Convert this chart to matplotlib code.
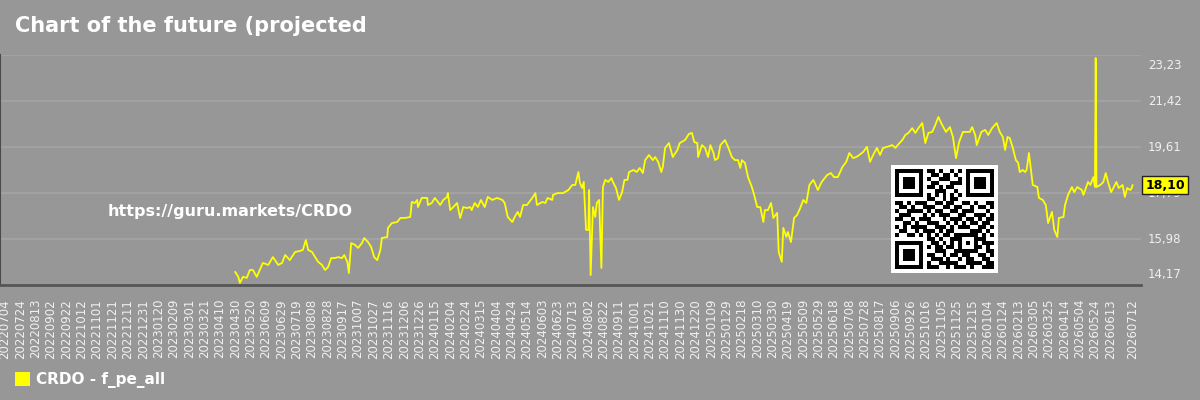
import matplotlib
matplotlib.use('Agg')
import numpy as np
import pandas as pd
from matplotlib import pyplot as plt
from matplotlib import transforms
from matplotlib.patches import Patch

# ---------------------------------------------------------------------------
# datos
# ---------------------------------------------------------------------------
title = 'Chart of the future (projected'
watermark = 'https://guru.markets/CRDO'
series_name = 'CRDO - f_pe_all'

dates = [
    '2023-04-30', '2023-05-04', '2023-05-06', '2023-05-10', '2023-05-15', '2023-05-19',
    '2023-05-23', '2023-05-28', '2023-06-01', '2023-06-05', '2023-06-12', '2023-06-18',
    '2023-06-25', '2023-06-30', '2023-07-04', '2023-07-10', '2023-07-17', '2023-07-23',
    '2023-07-27', '2023-07-31', '2023-08-03', '2023-08-08', '2023-08-12', '2023-08-16',
    '2023-08-21', '2023-08-25', '2023-08-29', '2023-09-02', '2023-09-07', '2023-09-11',
    '2023-09-16', '2023-09-19', '2023-09-23', '2023-09-25', '2023-09-28', '2023-10-03',
    '2023-10-07', '2023-10-12', '2023-10-15', '2023-10-20', '2023-10-24', '2023-10-28',
    '2023-11-01', '2023-11-05', '2023-11-07', '2023-11-14', '2023-11-15', '2023-11-20',
    '2023-11-27', '2023-12-01', '2023-12-07', '2023-12-14', '2023-12-16', '2023-12-20',
    '2023-12-23', '2023-12-24', '2023-12-29', '2024-01-05', '2024-01-06', '2024-01-11',
    '2024-01-15', '2024-01-19', '2024-01-22', '2024-01-26', '2024-01-31', '2024-02-01',
    '2024-02-04', '2024-02-08', '2024-02-13', '2024-02-17', '2024-02-21', '2024-02-26',
    '2024-03-01', '2024-03-03', '2024-03-07', '2024-03-11', '2024-03-15', '2024-03-20',
    '2024-03-24', '2024-03-30', '2024-04-05', '2024-04-12', '2024-04-15', '2024-04-19',
    '2024-04-25', '2024-04-28', '2024-05-02', '2024-05-05', '2024-05-09', '2024-05-14',
    '2024-05-21', '2024-05-25', '2024-05-27', '2024-06-03', '2024-06-07', '2024-06-10',
    '2024-06-16', '2024-06-17', '2024-06-23', '2024-06-30', '2024-07-07', '2024-07-12',
    '2024-07-16', '2024-07-20', '2024-07-22', '2024-07-25', '2024-07-27', '2024-07-30',
    '2024-08-02', '2024-08-03', '2024-08-05', '2024-08-08', '2024-08-11', '2024-08-13',
    '2024-08-16', '2024-08-19', '2024-08-21', '2024-08-24', '2024-08-28', '2024-09-01',
    '2024-09-03', '2024-09-07', '2024-09-11', '2024-09-15', '2024-09-18', '2024-09-22',
    '2024-09-24', '2024-09-30', '2024-10-04', '2024-10-08', '2024-10-12', '2024-10-15',
    '2024-10-20', '2024-10-25', '2024-10-28', '2024-11-01', '2024-11-05', '2024-11-07',
    '2024-11-10', '2024-11-15', '2024-11-20', '2024-11-26', '2024-11-29', '2024-12-06',
    '2024-12-11', '2024-12-15', '2024-12-18', '2024-12-22', '2024-12-23', '2024-12-28',
    '2025-01-01', '2025-01-05', '2025-01-08', '2025-01-12', '2025-01-14', '2025-01-18',
    '2025-01-21', '2025-01-27', '2025-01-31', '2025-02-05', '2025-02-09', '2025-02-13',
    '2025-02-16', '2025-02-18', '2025-02-22', '2025-02-26', '2025-03-03', '2025-03-06',
    '2025-03-10', '2025-03-14', '2025-03-18', '2025-03-20', '2025-03-24', '2025-03-28',
    '2025-03-31', '2025-04-05', '2025-04-07', '2025-04-11', '2025-04-13', '2025-04-17',
    '2025-04-19', '2025-04-23', '2025-04-27', '2025-05-01', '2025-05-05', '2025-05-09',
    '2025-05-13', '2025-05-17', '2025-05-22', '2025-05-24', '2025-05-28', '2025-06-02',
    '2025-06-09', '2025-06-14', '2025-06-18', '2025-06-23', '2025-06-29', '2025-07-04',
    '2025-07-08', '2025-07-13', '2025-07-17', '2025-07-21', '2025-07-26', '2025-07-31',
    '2025-08-04', '2025-08-08', '2025-08-13', '2025-08-17', '2025-08-21', '2025-08-26',
    '2025-09-02', '2025-09-06', '2025-09-09', '2025-09-15', '2025-09-19', '2025-09-23',
    '2025-09-28', '2025-10-02', '2025-10-06', '2025-10-11', '2025-10-15', '2025-10-19',
    '2025-10-24', '2025-10-28', '2025-11-01', '2025-11-06', '2025-11-11', '2025-11-16',
    '2025-11-20', '2025-11-24', '2025-11-28', '2025-12-03', '2025-12-08', '2025-12-12',
    '2025-12-15', '2025-12-19', '2025-12-21', '2025-12-27', '2026-01-01', '2026-01-05',
    '2026-01-10', '2026-01-16', '2026-01-20', '2026-01-24', '2026-01-27', '2026-01-30',
    '2026-02-02', '2026-02-06', '2026-02-10', '2026-02-13', '2026-02-15', '2026-02-19',
    '2026-02-22', '2026-02-24', '2026-02-27', '2026-03-02', '2026-03-04', '2026-03-10',
    '2026-03-12', '2026-03-17', '2026-03-21', '2026-03-24', '2026-03-29', '2026-04-01',
    '2026-04-05', '2026-04-07', '2026-04-13', '2026-04-15', '2026-04-19', '2026-04-24',
    '2026-04-27', '2026-05-01', '2026-05-07', '2026-05-09', '2026-05-15', '2026-05-18',
    '2026-05-22', '2026-05-24', '2026-05-25', '2026-05-26', '2026-05-31', '2026-06-04',
    '2026-06-07', '2026-06-10', '2026-06-14', '2026-06-17', '2026-06-21', '2026-06-24',
    '2026-06-29', '2026-07-02', '2026-07-05', '2026-07-09', '2026-07-11', '2026-07-12',
]

values = [
    14.68, 14.49, 14.25, 14.49, 14.45, 14.76,
    14.76, 14.49, 14.76, 15.04, 14.96, 15.27,
    14.96, 15.04, 15.35, 15.15, 15.47, 15.51,
    15.55, 15.94, 15.55, 15.47, 15.27, 15.08,
    14.96, 14.76, 14.88, 15.23, 15.23, 15.27,
    15.23, 15.35, 15.08, 14.64, 15.82, 15.75,
    15.63, 15.82, 16.02, 15.86, 15.67, 15.27,
    15.15, 15.55, 16.02, 16.06, 16.42, 16.61,
    16.65, 16.81, 16.81, 16.85, 17.44, 17.40,
    17.52, 17.24, 17.60, 17.60, 17.32, 17.40,
    17.60, 17.44, 17.32, 17.52, 17.64, 17.79,
    17.12, 17.24, 17.40, 16.81, 17.24, 17.20,
    17.24, 17.12, 17.40, 17.24, 17.52, 17.24,
    17.64, 17.52, 17.60, 17.52, 17.40, 16.85,
    16.65, 16.85, 17.05, 16.85, 17.32, 17.32,
    17.60, 17.79, 17.32, 17.44, 17.40, 17.60,
    17.52, 17.72, 17.79, 17.79, 17.91, 18.11,
    18.11, 18.62, 18.19, 17.99, 18.23, 16.34,
    16.34, 17.91, 14.56, 17.24, 16.85, 17.40,
    17.52, 14.84, 18.03, 18.31, 18.23, 18.38,
    18.23, 17.99, 17.52, 17.83, 18.31, 18.31,
    18.62, 18.70, 18.62, 18.78, 18.58, 19.09,
    19.29, 19.09, 19.21, 19.02, 18.62, 18.82,
    19.57, 19.76, 19.21, 19.49, 19.76, 19.88,
    20.12, 20.16, 19.80, 19.76, 19.21, 19.68,
    19.57, 19.21, 19.68, 19.37, 19.09, 19.17,
    19.68, 19.88, 19.61, 19.21, 19.09, 19.09,
    18.78, 19.09, 18.98, 18.42, 18.03, 17.72,
    17.24, 17.24, 16.65, 17.12, 17.12, 17.40,
    16.81, 17.01, 15.47, 15.08, 16.42, 16.06,
    16.26, 15.86, 16.81, 16.93, 17.20, 17.52,
    17.40, 18.11, 18.31, 18.19, 17.91, 18.23,
    18.50, 18.58, 18.42, 18.42, 18.82, 19.02,
    19.37, 19.17, 19.21, 19.29, 19.41, 19.61,
    19.02, 19.29, 19.57, 19.29, 19.57, 19.61,
    19.68, 19.57, 19.68, 19.88, 20.08, 20.16,
    20.35, 20.16, 20.35, 20.55, 19.76, 20.16,
    20.20, 20.47, 20.79, 20.47, 20.20, 20.39,
    20.00, 19.17, 19.80, 20.20, 20.20, 20.20,
    20.39, 20.08, 19.68, 20.20, 20.28, 20.08,
    20.35, 20.55, 20.20, 20.00, 19.49, 20.00,
    19.96, 19.57, 19.09, 18.98, 18.62, 18.70,
    18.62, 18.70, 19.37, 18.62, 18.11, 18.03,
    17.60, 17.52, 17.32, 16.61, 17.05, 16.34,
    16.06, 16.81, 16.85, 17.32, 17.72, 18.03,
    17.83, 18.03, 17.91, 17.72, 18.23, 18.11,
    18.42, 18.03, 23.11, 18.03, 18.11, 18.23,
    18.58, 18.23, 17.83, 17.99, 18.23, 17.99,
    18.11, 17.64, 17.99, 17.91, 17.99, 18.10,
]

# eje y: minimo y maximo del grafico
y_min, y_max = 14.17, 23.23
# eje x: primera etiqueta y paso entre etiquetas (dias)
x_first = '2022-07-04'
x_last = '2026-07-12'
x_step_days = 20

# codigo QR (1 = negro)
qr_rows = [
    '1111111011010010101111111',
    '1000001001101101001000001',
    '1011101010011100101011101',
    '1011101001100011101011101',
    '1011101011010110001011101',
    '1000001000111001001000001',
    '1111111010101010101111111',
    '0000000011001011000000000',
    '1101011100110110011010011',
    '0110100111001101100101101',
    '1001111010110011011100010',
    '0111000101011100110011101',
    '1100101110001011101101011',
    '0011010011100101010110110',
    '1010111100111010111001101',
    '0110010111010110000111010',
    '1001101010101101111110101',
    '0000000011010011100011100',
    '1111111001101010101010111',
    '1000001010110110100011010',
    '1011101000111001111110011',
    '1011101011001011011001101',
    '1011101001110100101100110',
    '1000001010011111001111011',
    '1111111011100101110100111',
]

# ---------------------------------------------------------------------------
# estilo
# ---------------------------------------------------------------------------
bg = '#979797'
grid_color = '#a2a2a2'
line_color = '#ffff00'
text_color = '#f0f0f0'

fechas = pd.to_datetime(dates)

fig = plt.figure(figsize=(12, 4), dpi=100, facecolor=bg)
ax = fig.add_axes([0, 115 / 400, 1141 / 1200, 230 / 400])
ax.set_facecolor(bg)

ax.plot(fechas, values, color=line_color, lw=1.3, zorder=3)

# eje x
x_ticks = list(pd.date_range(x_first, x_last, freq='%dD' % x_step_days))
end = pd.Timestamp(x_last)
x_ticks = [t for t in x_ticks if (end - t).days > 12] + [end]
ax.set_xticks(x_ticks)
ax.set_xticklabels([t.strftime('%Y%m%d') for t in x_ticks], rotation=90,
                   fontsize=8.5, color=text_color)
ax.set_xlim(pd.Timestamp(x_first) - pd.Timedelta(days=6.5),
            pd.Timestamp(x_first) + pd.Timedelta(days=1480))
ax.tick_params(axis='x', length=0, pad=10)

# eje y
y_ticks = np.linspace(y_min, y_max, 6)
ax.set_ylim(y_min, y_max)
ax.set_yticks(y_ticks)
ax.set_yticklabels([])
ax.tick_params(axis='y', length=0)
ax.yaxis.grid(True, color=grid_color, lw=1.5, zorder=0)

trans = transforms.blended_transform_factory(ax.transAxes, ax.transData)
for i, v in enumerate(y_ticks):
    label = ('%.2f' % v).replace('.', ',')
    if i == 0:
        va, dy = 'bottom', 3
    elif i == len(y_ticks) - 1:
        va, dy = 'top', -3
    else:
        va, dy = 'center', 0
    t = transforms.offset_copy(trans, fig=fig, x=5, y=dy, units='points')
    ax.text(1.0, v, label, transform=t, ha='left', va=va, fontsize=8.5,
            color=text_color, clip_on=False)

for side in ['top', 'right']:
    ax.spines[side].set_visible(False)
ax.spines['left'].set_color('#4a4a4a')
ax.spines['left'].set_linewidth(1.5)
ax.spines['bottom'].set_color('#555555')
ax.spines['bottom'].set_linewidth(2)

# ultimo valor
last = values[-1]
t = transforms.offset_copy(trans, fig=fig, x=3, y=0, units='points')
ax.text(1.0, last, ('%.2f' % last).replace('.', ','), transform=t,
        ha='left', va='center', fontsize=9, fontweight='bold', color='black',
        bbox=dict(boxstyle='square,pad=0.22', fc=line_color, ec='#222222', lw=1),
        clip_on=False, zorder=10)

# textos
fig.text(15 / 1200, 1 - 32 / 400, title, fontsize=15, fontweight='bold',
         color='white', va='baseline', ha='left')
fig.text(108 / 1200, 1 - 216 / 400, watermark, fontsize=11.5, fontweight='bold',
         color='white', va='baseline', ha='left')

fig.legend(handles=[Patch(facecolor=line_color, edgecolor='none', label=series_name)],
           loc='center left', bbox_to_anchor=(15 / 1200, 20 / 400), frameon=False,
           prop={'weight': 'bold', 'size': 11}, labelcolor='white',
           handlelength=1.0, handleheight=1.0, handletextpad=0.4,
           borderpad=0, borderaxespad=0)

# QR
qr = np.array([[int(c) for c in row] for row in qr_rows])
qr = np.pad(qr, 1)
qr_ax = fig.add_axes([891 / 1200, 127 / 400, 107 / 1200, 108 / 400])
qr_ax.imshow(1 - qr, cmap='gray', vmin=0, vmax=1, interpolation='nearest', aspect='auto')
qr_ax.axis('off')

fig.savefig('out.png', dpi=100, facecolor=bg)
